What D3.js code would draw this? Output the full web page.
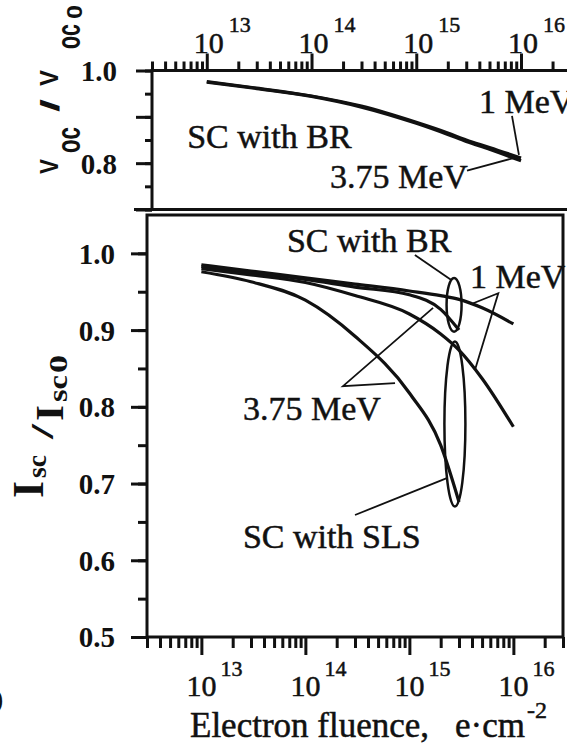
<!DOCTYPE html>
<html><head><meta charset="utf-8">
<script src="https://cdn.jsdelivr.net/npm/d3@7"></script>
<style>
body { margin: 0; background: #fff; }
svg { display: block; }
text { fill: #111; }
</style></head><body>
<script>
// fluence grid, e/cm^2
const fluence = [1e13, 3e13, 1e14, 3e14, 1e15, 2e15, 3e15, 5e15, 1e16]
const fluenceTo3e15 = [1e13, 3e13, 1e14, 3e14, 1e15, 2e15, 3e15]

// Voc/Voc0, SC with BR
const voc1MeV   = [0.976, 0.962, 0.945, 0.923, 0.888, 0.865, 0.850, 0.834, 0.811]
const voc375MeV = [0.975, 0.961, 0.944, 0.921, 0.886, 0.862, 0.847, 0.830, 0.805]

// Isc/Isc0
const iscBR1MeV    = [0.985, 0.977, 0.968, 0.960, 0.951, 0.945, 0.940, 0.929, 0.908]
const iscBR375MeV  = [0.983, 0.975, 0.966, 0.956, 0.946, 0.927, 0.900]
const iscSLS1MeV   = [0.980, 0.972, 0.962, 0.945, 0.921, 0.895, 0.874, 0.837, 0.774]
const iscSLS375MeV = [0.976, 0.963, 0.939, 0.892, 0.818, 0.750, 0.676]

const decades = [1e13, 1e14, 1e15, 1e16]
const decadeExp = ['13', '14', '15', '16']
const vocTicks = [0.7, 0.75, 0.8, 0.85, 0.9, 0.95, 1.0]
const vocMajor = [0.7, 0.8, 0.9, 1.0]
const vocLabels = [0.8, 1.0]
const iscTicks = [0.5, 0.55, 0.6, 0.65, 0.7, 0.75, 0.8, 0.85, 0.9, 0.95, 1.0]
const iscLabels = [0.5, 0.6, 0.7, 0.8, 0.9, 1.0]

// annotations, in data units of each panel
const topLabels = [
  { t: 'SC with BR', f: 6.5e12, v: 0.833 },
  { t: '1 MeV', f: 3.97e15, v: 0.908 },
  { t: '3.75 MeV', f: 1.5e14, v: 0.746 }
]
const topPointers = [
  [[8.2e15, 0.902], [9.55e15, 0.818]],
  [[3.05e15, 0.784], [9.17e15, 0.813]]
]
const botLabels = [
  { t: 'SC with BR', f: 6.65e13, v: 1.002 },
  { t: '1 MeV', f: 3.83e15, v: 0.955 },
  { t: '3.75 MeV', f: 2.51e13, v: 0.783 },
  { t: 'SC with SLS', f: 2.51e13, v: 0.616 }
]
const botPointers = [
  [[1.13e15, 0.998], [2.55e15, 0.965]],
  [[4.11e15, 0.935], [7.16e15, 0.948], [4.27e15, 0.848]],
  [[1.69e15, 0.929], [2.30e14, 0.827], [7.28e14, 0.831]],
  [[3.0e14, 0.659], [2.29e15, 0.707]]
]
// ellipses: fluence, v top, v bottom
const botEllipses = [
  { f: 2.69e15, v0: 0.968, v1: 0.898, rx: 7.5 },
  { f: 2.74e15, v0: 0.885, v1: 0.670, rx: 10.5 }
]

const W = 567, H = 744
const serif = '"Liberation Serif", "Times New Roman", serif'
const sans = '"Liberation Sans", Arial, sans-serif'

const svg = d3.select('body').append('svg').attr('width', W).attr('height', H)

const minorTicks = []
for (let e = 12; e <= 16; e++) for (let k = 2; k <= 9; k++) {
  const v = k * Math.pow(10, e)
  if (v >= 3e12 && v <= 3e16) minorTicks.push(v)
}

// rotated axis title pieces, squeezed to the lengths seen in the scan
function vtitle(g, pieces) {
  pieces.forEach(p => {
    g.append('text')
      .attr('transform', `translate(${p.xb},${p.y0}) rotate(-90)`)
      .attr('font-family', p.fam).attr('font-weight', 'bold').attr('font-size', p.size)
      .attr('textLength', p.len).attr('lengthAdjust', 'spacingAndGlyphs')
      .text(p.t)
  })
}

// ---------- upper panel ----------
const xT = d3.scaleLog().domain([3e12, 3e16]).range([152, 571])
const yT = d3.scaleLinear().domain([0.7, 1.0]).range([209.5, 70.5])

const gTop = svg.append('g')

gTop.append('g').attr('transform', `translate(0,${yT(1.0)})`)
  .call(d3.axisTop(xT).tickValues(minorTicks).tickSize(9).tickFormat(''))
gTop.append('g').attr('transform', `translate(0,${yT(1.0)})`)
  .call(d3.axisTop(xT).tickValues(decades).tickSize(17).tickFormat(''))
gTop.append('g').attr('transform', `translate(${xT.range()[0]},0)`)
  .call(d3.axisLeft(yT).tickValues(vocTicks).tickSize(7).tickFormat(''))
gTop.append('g').attr('transform', `translate(${xT.range()[0]},0)`)
  .call(d3.axisLeft(yT).tickValues(vocMajor).tickSize(16).tickFormat(''))
gTop.append('line').attr('x1', 134).attr('x2', W).attr('y1', yT(0.7)).attr('y2', yT(0.7))

gTop.selectAll('.ylab').data(vocLabels).join('text')
  .attr('x', 117).attr('y', d => yT(d)).attr('dy', '0.36em')
  .attr('text-anchor', 'end').attr('font-family', serif).attr('font-weight', 'bold')
  .attr('font-size', 29).text(d => d.toFixed(1))

const tl = gTop.selectAll('.xlab').data(decades).join('text')
  .attr('font-family', serif).attr('font-size', 30).attr('stroke', '#111').attr('stroke-width', 0.5)
  .attr('x', d => xT(d) - 13).attr('y', 53)
tl.append('tspan').text('10')
tl.append('tspan').attr('dx', 5).attr('dy', -21).attr('font-size', 22).text((d, i) => decadeExp[i])

const lineT = d3.line().x(d => xT(d[0])).y(d => yT(d[1])).curve(d3.curveMonotoneX)
gTop.append('path').datum(d3.zip(fluence, voc1MeV)).attr('class', 'curve').attr('d', lineT)
gTop.append('path').datum(d3.zip(fluence, voc375MeV)).attr('class', 'curve').attr('d', lineT)

gTop.selectAll('.lbl').data(topLabels).join('text')
  .attr('class', 'lbl').attr('x', d => xT(d.f)).attr('y', d => yT(d.v)).text(d => d.t)
gTop.selectAll('.ptr').data(topPointers).join('path').attr('class', 'ptr')
  .attr('d', d3.line().x(d => xT(d[0])).y(d => yT(d[1])))

// V_oc / V_oc0
vtitle(gTop, [
  { t: 'V', y0: 174, len: 15, xb: 58, size: 25, fam: sans },
  { t: 'oc', y0: 153, len: 26, xb: 80, size: 34, fam: sans },
  { t: '/', y0: 112, len: 13, xb: 59, size: 25, fam: sans },
  { t: 'V', y0: 86, len: 16, xb: 58, size: 25, fam: sans },
  { t: 'oc', y0: 49, len: 25, xb: 80, size: 34, fam: sans },
  { t: '0', y0: 19, len: 14, xb: 82, size: 22, fam: sans }
])

// ---------- lower panel ----------
const xB = d3.scaleLog().domain([3e12, 3e16]).range([147, 563])
const yB = d3.scaleLinear().domain([0.5, 1.05]).range([637, 215])

const gBot = svg.append('g')
gBot.append('g').attr('transform', `translate(0,${yB(0.5)})`)
  .call(d3.axisBottom(xB).tickValues(minorTicks).tickSize(11).tickFormat(''))
gBot.append('g').attr('transform', `translate(0,${yB(0.5)})`)
  .call(d3.axisBottom(xB).tickValues(decades).tickSize(18).tickFormat(''))
gBot.append('g').attr('transform', `translate(${xB.range()[0]},0)`)
  .call(d3.axisLeft(yB).tickValues(iscTicks).tickSize(9).tickFormat(''))
gBot.append('g').attr('transform', `translate(${xB.range()[0]},0)`)
  .call(d3.axisLeft(yB).tickValues(iscLabels).tickSize(16).tickFormat(''))
gBot.append('rect').attr('x', xB.range()[0]).attr('y', yB(1.05))
  .attr('width', xB.range()[1] - xB.range()[0]).attr('height', yB(0.5) - yB(1.05))
  .attr('fill', 'none').attr('stroke', '#111').attr('stroke-width', 3)

gBot.selectAll('.ylab').data(iscLabels).join('text')
  .attr('x', 115).attr('y', d => yB(d)).attr('dy', '0.36em')
  .attr('text-anchor', 'end').attr('font-family', serif).attr('font-weight', 'bold')
  .attr('font-size', 29).text(d => d.toFixed(1))

const bl = gBot.selectAll('.xlab').data(decades).join('text')
  .attr('font-family', serif).attr('font-size', 30).attr('stroke', '#111').attr('stroke-width', 0.5)
  .attr('x', d => xB(d) - 15).attr('y', 696)
bl.append('tspan').text('10')
bl.append('tspan').attr('dx', 4).attr('dy', -20).attr('font-size', 22).text((d, i) => decadeExp[i])

const lineB = d3.line().x(d => xB(d[0])).y(d => yB(d[1])).curve(d3.curveMonotoneX)
;[[fluence, iscBR1MeV], [fluenceTo3e15, iscBR375MeV], [fluence, iscSLS1MeV], [fluenceTo3e15, iscSLS375MeV]]
  .forEach(([f, v]) => gBot.append('path').datum(d3.zip(f, v)).attr('class', 'curve').attr('d', lineB))

gBot.selectAll('.lbl').data(botLabels).join('text')
  .attr('class', 'lbl').attr('x', d => xB(d.f)).attr('y', d => yB(d.v)).text(d => d.t)
gBot.selectAll('.ptr').data(botPointers).join('path').attr('class', 'ptr')
  .attr('d', d3.line().x(d => xB(d[0])).y(d => yB(d[1])))
gBot.selectAll('ellipse').data(botEllipses).join('ellipse')
  .attr('cx', d => xB(d.f)).attr('cy', d => (yB(d.v0) + yB(d.v1)) / 2)
  .attr('rx', d => d.rx).attr('ry', d => (yB(d.v1) - yB(d.v0)) / 2)
  .attr('fill', 'none').attr('stroke', '#111').attr('stroke-width', 2.5)

// I_sc / I_sc0
vtitle(gBot, [
  { t: 'I', y0: 498, len: 17, xb: 43, size: 45, fam: serif },
  { t: 'sc', y0: 478, len: 23, xb: 46, size: 27, fam: serif },
  { t: '/', y0: 439, len: 15, xb: 53, size: 32, fam: serif },
  { t: 'I', y0: 421, len: 16, xb: 63, size: 40, fam: serif },
  { t: 'sc', y0: 402, len: 27, xb: 67, size: 28, fam: serif },
  { t: '0', y0: 373, len: 18, xb: 67, size: 26, fam: serif }
])

// x title
const xt = svg.append('text').attr('x', 190).attr('y', 737)
  .attr('font-family', serif).attr('font-size', 35).attr('stroke', '#111').attr('stroke-width', 0.5)
xt.append('tspan').text('Electron fluence,')
xt.append('tspan').attr('x', 455).text('e\u00b7cm')
xt.append('tspan').attr('dx', 2).attr('dy', -19).attr('font-size', 24).text('-2')

// stray edge of the neighbouring figure
svg.append('text').attr('x', -6).attr('y', 708).attr('font-family', serif).attr('font-size', 28).text(')')

// common styles
svg.selectAll('.domain').remove()
svg.selectAll('.tick line').attr('stroke', '#111').attr('stroke-width', 2.6)
svg.selectAll('.curve').attr('fill', 'none').attr('stroke', '#111').attr('stroke-width', 3.2)
svg.selectAll('.ptr').attr('fill', 'none').attr('stroke', '#111').attr('stroke-width', 1.8)
svg.selectAll('.lbl').attr('font-family', serif).attr('font-size', 34)
  .attr('stroke', '#111').attr('stroke-width', 0.5)
svg.selectAll('line').attr('stroke', '#111').attr('stroke-width', 3)
// upper frame edges
gTop.append('path').attr('fill', 'none').attr('stroke', '#111').attr('stroke-width', 3)
  .attr('d', `M${xT.range()[0]},${yT(0.7)}V${yT(1.0)}H${W}`)
</script>
</body></html>
